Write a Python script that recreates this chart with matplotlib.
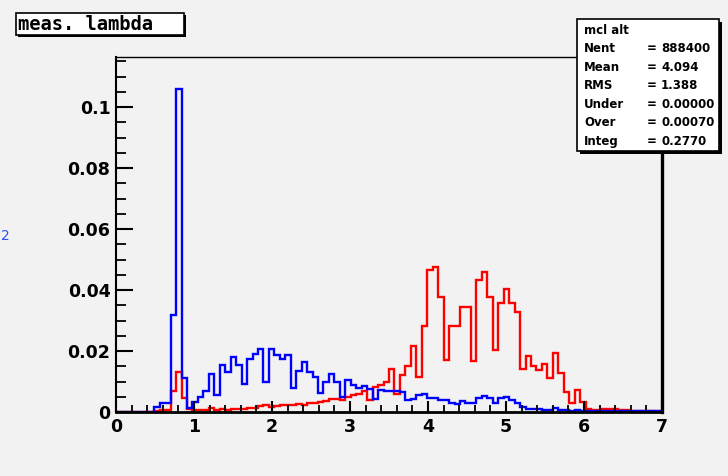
import matplotlib
matplotlib.use("Agg")
import matplotlib.pyplot as plt
from matplotlib.patches import Rectangle
import numpy as np

# 100 bins over [0, 7]
x_lo, x_hi, n_bins = 0.0, 7.0, 100

red = [
    0, 0, 0, 0, 0, 0, 0, 0.0003, 0.0005, 0.0005,
    0.0069, 0.0130, 0.0045, 0.0009, 0.0007, 0.0005, 0.0007, 0.0012, 0.0005, 0.0009,
    0.0008, 0.0009, 0.0009, 0.0009, 0.0014, 0.0012, 0.0020, 0.0022, 0.0018, 0.0020,
    0.0022, 0.0023, 0.0023, 0.0026, 0.0023, 0.0028, 0.0030, 0.0032, 0.0037, 0.0042,
    0.0042, 0.0040, 0.0050, 0.0055, 0.0060, 0.0068, 0.0038, 0.0082, 0.0090, 0.0098,
    0.0140, 0.0059, 0.0121, 0.0151, 0.0215, 0.0115, 0.0282, 0.0465, 0.0477, 0.0378,
    0.0170, 0.0282, 0.0283, 0.0344, 0.0344, 0.0168, 0.0434, 0.0460, 0.0377, 0.0202,
    0.0358, 0.0404, 0.0357, 0.0328, 0.0142, 0.0184, 0.0151, 0.0137, 0.0157, 0.0113,
    0.0194, 0.0128, 0.0064, 0.0028, 0.0073, 0.0032, 0.0011, 0.0007, 0.0007, 0.0011,
    0.0011, 0.0011, 0.0007, 0.0005, 0.0003, 0.0003, 0.0003, 0.0003, 0.0003, 0.0003,
]

blue = [
    0, 0, 0, 0, 0, 0, 0, 0.0017, 0.0028, 0.0028,
    0.0318, 0.1058, 0.0110, 0.0013, 0.0034, 0.0048, 0.0069, 0.0125, 0.0056, 0.0154,
    0.0132, 0.0179, 0.0154, 0.0092, 0.0175, 0.0191, 0.0207, 0.0098, 0.0207, 0.0187,
    0.0175, 0.0186, 0.0080, 0.0135, 0.0165, 0.0132, 0.0116, 0.0061, 0.0099, 0.0125,
    0.0099, 0.0050, 0.0105, 0.0089, 0.0080, 0.0085, 0.0075, 0.0042, 0.0072, 0.0070,
    0.0068, 0.0070, 0.0066, 0.0040, 0.0042, 0.0055, 0.0058, 0.0047, 0.0045, 0.0040,
    0.0038, 0.0030, 0.0026, 0.0037, 0.0028, 0.0030, 0.0047, 0.0053, 0.0045, 0.0030,
    0.0045, 0.0048, 0.0040, 0.0028, 0.0017, 0.0011, 0.0010, 0.0010, 0.0008, 0.0008,
    0.0012, 0.0008, 0.0006, 0.0004, 0.0007, 0.0004, 0.0003, 0.0002, 0.0002, 0.0002,
    0.0002, 0.0002, 0.0002, 0.0002, 0.0002, 0.0002, 0.0002, 0.0002, 0.0002, 0.0002,
]

y_max = 0.1164
x_ticks = [0, 1, 2, 3, 4, 5, 6, 7]
x_labels = ["0", "1", "2", "3", "4", "5", "6", "7"]
y_ticks = [0, 0.02, 0.04, 0.06, 0.08, 0.1]
y_labels = ["0", "0.02", "0.04", "0.06", "0.08", "0.1"]

hist_title = "meas. lambda"
stats_title = "mcl alt"
stats_names = ["Nent", "Mean", "RMS", "Under", "Over", "Integ"]
stats_values = ["888400", "4.094", "1.388", "0.00000", "0.00070", "0.2770"]

W, H = 728, 476
BG = "#f2f2f2"
FONT = "DejaVu Sans"
MONO = "DejaVu Sans Mono"

fig = plt.figure(figsize=(W / 100, H / 100), dpi=100, facecolor=BG)


def fx(px):
    return px / W


def fy(py):
    return 1 - py / H


ax = fig.add_axes([fx(116), fy(412), fx(662) - fx(116), fy(57) - fy(412)])
ax.set_facecolor(BG)

edges = np.linspace(x_lo, x_hi, n_bins + 1)
ax.stairs(red, edges, color="#ff0000", lw=1.7, baseline=0)
ax.stairs(blue, edges, color="#0000ff", lw=1.7, baseline=0)

ax.set_xlim(x_lo, x_hi)
ax.set_ylim(0, y_max)

ax.set_xticks(x_ticks)
ax.set_xticklabels(x_labels)
ax.set_xticks(np.arange(0, 7.01, 0.2), minor=True)
ax.set_yticks(y_ticks)
ax.set_yticklabels(y_labels)
ax.set_yticks(np.arange(0, y_max, 0.005), minor=True)

ax.tick_params(axis="x", which="major", direction="in", length=8, width=1.5,
               pad=4, top=False)
ax.tick_params(axis="x", which="minor", direction="in", length=5, width=1.3,
               top=False)
ax.tick_params(axis="y", which="major", direction="in", length=12, width=1.5,
               pad=4, right=False)
ax.tick_params(axis="y", which="minor", direction="in", length=7, width=1.3,
               right=False)
for lab in ax.get_xticklabels() + ax.get_yticklabels():
    lab.set_fontfamily(FONT)
    lab.set_fontweight("bold")
    lab.set_fontsize(12.5)

ax.spines["left"].set_linewidth(1.5)
ax.spines["bottom"].set_linewidth(2.0)
ax.spines["right"].set_linewidth(2.4)
ax.spines["top"].set_linewidth(1.0)


def shadow_box(x0, y0, x1, y1, off=3):
    fig.patches.append(Rectangle((fx(x0 + off), fy(y1 + off)), fx(x1 - x0), fy(y0) - fy(y1),
                                 transform=fig.transFigure, facecolor="black",
                                 edgecolor="none", zorder=5))
    fig.patches.append(Rectangle((fx(x0), fy(y1)), fx(x1 - x0), fy(y0) - fy(y1),
                                 transform=fig.transFigure, facecolor="white",
                                 edgecolor="black", lw=1.2, zorder=6))


# histogram title box
shadow_box(16, 13, 184, 35, off=2)
fig.text(fx(18), fy(24), hist_title, ha="left", va="center", fontsize=13.5,
         fontfamily=MONO, fontweight="bold", zorder=7)

# statistics box
shadow_box(577, 19, 719, 151, off=3)
fig.text(fx(584), fy(30), stats_title, ha="left", va="center", fontsize=8.5,
         fontfamily=FONT, fontweight="bold", zorder=7)
for i, (name, val) in enumerate(zip(stats_names, stats_values)):
    yy = fy(48.5 + i * 18.6)
    fig.text(fx(584), yy, name, ha="left", va="center", fontsize=8.5,
             fontfamily=FONT, fontweight="bold", zorder=7)
    fig.text(fx(652), yy, "=", ha="center", va="center", fontsize=8.5,
             fontfamily=FONT, fontweight="bold", zorder=7)
    fig.text(fx(661), yy, val, ha="left", va="center", fontsize=8.5,
             fontfamily=FONT, fontweight="bold", zorder=7)

# stray glyph from the neighbouring pad
fig.text(fx(1), fy(236), "2", ha="left", va="center", fontsize=10,
         color="#3050ff", fontfamily=FONT)

fig.savefig("out.png", dpi=100, facecolor=BG)
